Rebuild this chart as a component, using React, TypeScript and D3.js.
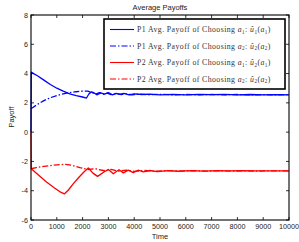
import React from "react"
import * as d3 from "d3"

type Pt = [number, number]

// P1 avg payoff of choosing a1 (solid blue)
const p1a1: Pt[] = [
  [0, 0], [10, 4.1], [100, 4.0], [250, 3.85], [500, 3.55], [750, 3.25], [1000, 3.0],
  [1250, 2.8], [1500, 2.62], [1750, 2.5], [2000, 2.4], [2150, 2.33], [2250, 2.62],
  [2350, 2.75], [2450, 2.68], [2550, 2.55], [2700, 2.68], [2850, 2.6], [3000, 2.7],
  [3150, 2.55], [3300, 2.65], [3450, 2.58], [3600, 2.64], [3800, 2.55], [4000, 2.62],
  [4300, 2.57], [4600, 2.6], [5000, 2.55], [5500, 2.58], [6000, 2.55], [6500, 2.58],
  [7000, 2.56], [7500, 2.58], [8000, 2.55], [8500, 2.57], [9000, 2.55], [9500, 2.56],
  [10000, 2.55],
]

// P1 avg payoff of choosing a2 (dash-dot blue)
const p1a2: Pt[] = [
  [0, 1.6], [100, 1.72], [300, 1.95], [500, 2.15], [750, 2.35], [1000, 2.5],
  [1250, 2.62], [1500, 2.7], [1750, 2.76], [2000, 2.8], [2200, 2.8], [2350, 2.7],
  [2500, 2.6], [2650, 2.7], [2800, 2.58], [2950, 2.66], [3100, 2.56], [3300, 2.63],
  [3500, 2.57], [3700, 2.62], [3900, 2.55], [4200, 2.6], [4500, 2.55], [5000, 2.58],
  [5500, 2.55], [6000, 2.57], [6500, 2.55], [7000, 2.57], [7500, 2.55], [8000, 2.57],
  [8500, 2.55], [9000, 2.56], [9500, 2.55], [10000, 2.56],
]

// P2 avg payoff of choosing a1 (solid red)
const p2a1: Pt[] = [
  [0, 0], [10, -2.5], [300, -2.95], [600, -3.4], [900, -3.8], [1150, -4.1],
  [1290, -4.22], [1450, -3.95], [1650, -3.5], [1850, -3.1], [2050, -2.72],
  [2220, -2.45], [2400, -2.8], [2580, -3.02], [2800, -2.75], [3000, -2.55],
  [3190, -2.84], [3410, -2.57], [3580, -2.78], [3770, -2.6], [3965, -2.76],
  [4150, -2.6], [4350, -2.72], [4600, -2.62], [4900, -2.7], [5300, -2.63],
  [5700, -2.67], [6200, -2.63], [6700, -2.66], [7200, -2.63], [7700, -2.65],
  [8200, -2.63], [8700, -2.65], [9200, -2.64], [9600, -2.65], [10000, -2.64],
]

// P2 avg payoff of choosing a2 (dash-dot red)
const p2a2: Pt[] = [
  [0, -2.5], [200, -2.42], [500, -2.34], [900, -2.25], [1300, -2.2], [1600, -2.27],
  [1900, -2.42], [2200, -2.55], [2500, -2.5], [2800, -2.62], [3100, -2.55],
  [3400, -2.66], [3700, -2.6], [4000, -2.68], [4400, -2.62], [4800, -2.67],
  [5300, -2.63], [5800, -2.66], [6300, -2.63], [6800, -2.66], [7300, -2.64],
  [7800, -2.66], [8300, -2.64], [8800, -2.66], [9300, -2.64], [10000, -2.65],
]

const xTicks = [0, 1000, 2000, 3000, 4000, 5000, 6000, 7000, 8000, 9000, 10000]
const yTicks = [-6, -4, -2, 0, 2, 4, 6, 8]

const legendItems = [
  { player: "P1", a: "1", u: "1", color: "#0000ff", dash: "" },
  { player: "P1", a: "2", u: "2", color: "#0000ff", dash: "6,2,1.5,2" },
  { player: "P2", a: "1", u: "2", color: "#ff0000", dash: "" },
  { player: "P2", a: "2", u: "2", color: "#ff0000", dash: "6,2,1.5,2" },
]

const series = [
  { data: p1a1, color: "#0000ff", dash: "" },
  { data: p1a2, color: "#0000ff", dash: "6,2,1.5,2" },
  { data: p2a1, color: "#ff0000", dash: "" },
  { data: p2a2, color: "#ff0000", dash: "6,2,1.5,2" },
]

export default function App() {
  const width = 299
  const height = 242
  const margin = { top: 15, right: 10, bottom: 22, left: 31 }
  const plotW = width - margin.left - margin.right
  const plotH = height - margin.top - margin.bottom

  const x = d3.scaleLinear().domain([0, 10000]).range([0, plotW])
  const y = d3.scaleLinear().domain([-6, 8]).range([plotH, 0])

  const line = d3
    .line<Pt>()
    .x((d) => x(d[0]))
    .y((d) => y(d[1]))

  const sans = "'Liberation Sans', Arial, sans-serif"
  const serif = "'Liberation Serif', 'DejaVu Serif', serif"

  return (
    <svg
      width={width}
      height={height}
      style={{ position: "absolute", left: 0, top: 0, background: "#fff" }}
    >
      <text x={160} y={10} textAnchor="middle" fontFamily={sans} fontSize={7.5} fill="#222">
        Average Payoffs
      </text>
      <text x={160} y={239} textAnchor="middle" fontFamily={sans} fontSize={7.5} fill="#222">
        Time
      </text>
      <text
        transform={`translate(14,117) rotate(-90)`}
        textAnchor="middle"
        fontFamily={sans}
        fontSize={7.5}
        fill="#222"
      >
        Payoff
      </text>

      <g transform={`translate(${margin.left},${margin.top})`}>
        <rect width={plotW} height={plotH} fill="#fff" />
        {series.map((s, i) => (
          <path
            key={i}
            d={line(s.data) || ""}
            fill="none"
            stroke={s.color}
            strokeWidth={1.3}
            strokeDasharray={s.dash}
            strokeLinejoin="round"
          />
        ))}

        {xTicks.map((t) => (
          <g key={"x" + t}>
            <line x1={x(t)} x2={x(t)} y1={plotH} y2={plotH - 3} stroke="#000" strokeWidth={0.8} />
            <line x1={x(t)} x2={x(t)} y1={0} y2={3} stroke="#000" strokeWidth={0.8} />
            <text x={x(t)} y={plotH + 9} textAnchor="middle" fontFamily={sans} fontSize={7.2} fill="#222">
              {t}
            </text>
          </g>
        ))}
        {yTicks.map((t) => (
          <g key={"y" + t}>
            <line x1={0} x2={3} y1={y(t)} y2={y(t)} stroke="#000" strokeWidth={0.8} />
            <line x1={plotW} x2={plotW - 3} y1={y(t)} y2={y(t)} stroke="#000" strokeWidth={0.8} />
            <text x={-3} y={y(t) + 2.5} textAnchor="end" fontFamily={sans} fontSize={7.2} fill="#222">
              {t}
            </text>
          </g>
        ))}
        <rect width={plotW} height={plotH} fill="none" stroke="#000" strokeWidth={1.1} />
      </g>

      {/* legend */}
      <g>
        <rect x={104} y={19} width={181} height={70} fill="#fff" stroke="#000" strokeWidth={1.6} />
        {legendItems.map((it, i) => {
          const ly = 29.5 + i * 16.5
          return (
            <g key={i}>
              <line x1={110} x2={134} y1={ly} y2={ly} stroke={it.color} strokeWidth={1.1} strokeDasharray={it.dash} />
              <text x={137} y={ly + 2.6} fontFamily={serif} fontSize={7.8} letterSpacing={0.42} fill="#333">
                {it.player} Avg. Payoff of Choosing{" "}
                <tspan fontStyle="italic">a</tspan>
                <tspan fontSize={5.2} dy={1.5}>{it.a}</tspan>
                <tspan dy={-1.5}>:  </tspan>
                <tspan fontStyle="italic">û</tspan>
                <tspan fontSize={5.2} dy={1.5}>{it.u}</tspan>
                <tspan dy={-1.5}>(</tspan>
                <tspan fontStyle="italic">a</tspan>
                <tspan fontSize={5.2} dy={1.5}>{it.a}</tspan>
                <tspan dy={-1.5}>)</tspan>
              </text>
            </g>
          )
        })}
      </g>
    </svg>
  )
}
